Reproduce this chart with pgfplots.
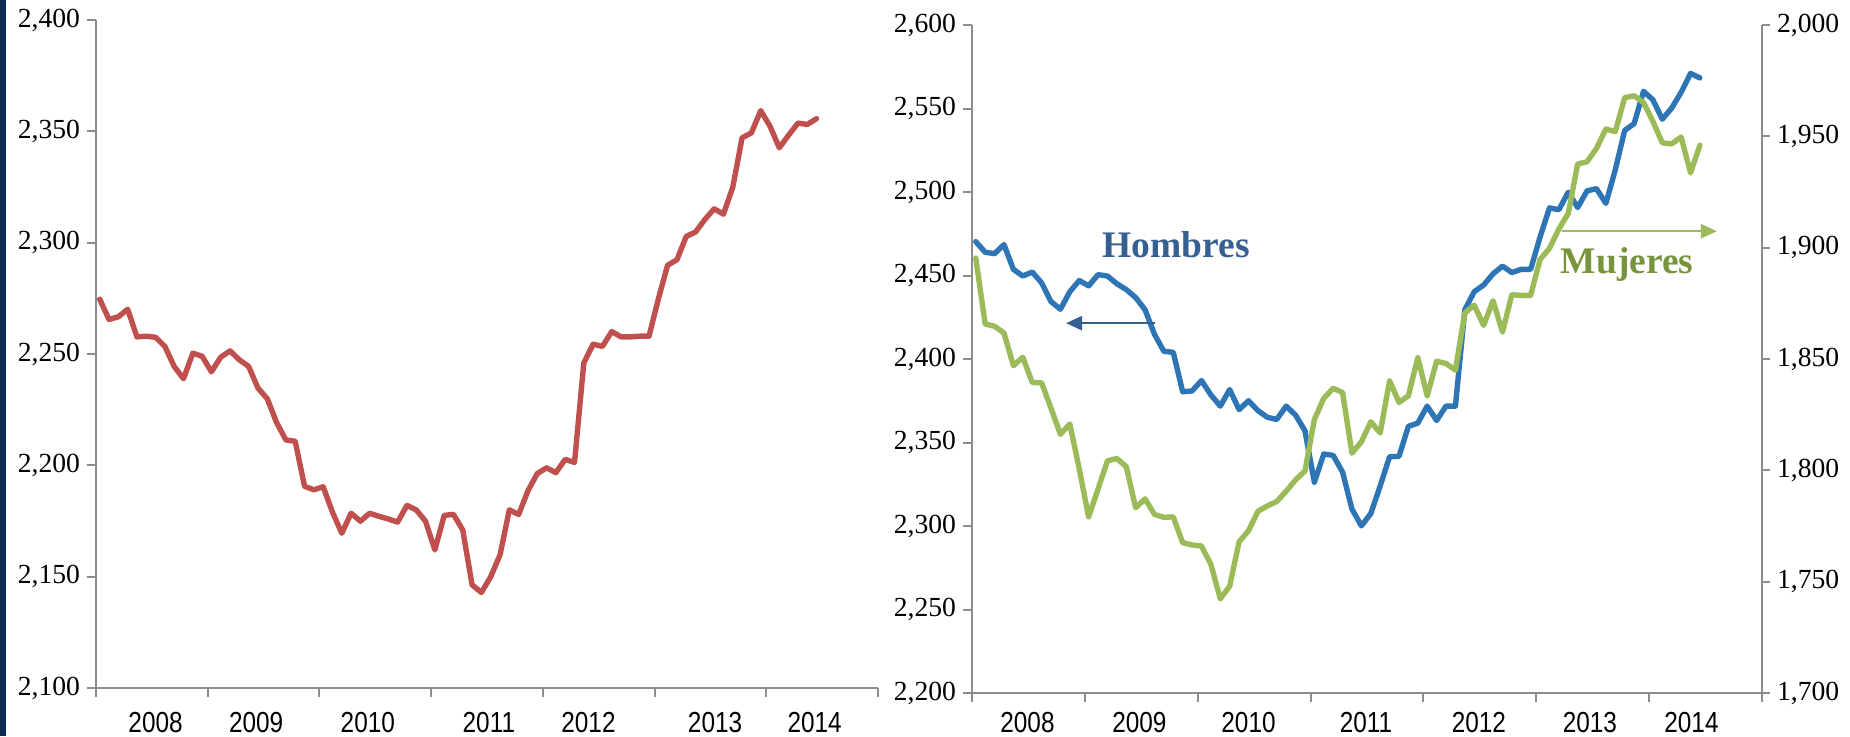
\documentclass[border=0pt]{standalone}
\usepackage{pgfplots}
\pgfplotsset{compat=1.18}
\usepackage{fontspec}
\setmainfont{Liberation Serif}
\newfontfamily\xfont[FakeStretch=0.84]{Liberation Sans}
\usetikzlibrary{arrows.meta}
\definecolor{navy}{HTML}{0C2C54}
\definecolor{axisgray}{HTML}{8C8C8C}
\definecolor{redline}{HTML}{C0504D}
\definecolor{blueline}{HTML}{2E75B6}
\definecolor{greenline}{HTML}{9BBB59}
\definecolor{hombresc}{HTML}{376092}
\definecolor{mujeresc}{HTML}{77933C}

\pgfplotsset{
  common/.style={
    scale only axis, anchor=south west,
    xmin=0, xmax=84, clip=false,
    axis line style={draw=axisgray, line width=1pt, -},
    tick style={draw=axisgray, line width=1pt},
    tick align=outside, major tick length=4.5pt,
    xtick={0,12,...,84}, xticklabels={},
    yticklabel style={font=\fontsize{13.8}{14.5}\selectfont},
    /pgf/number format/1000 sep={,},
    /pgf/number format/assume math mode=true,
    extra x tick labels={2008,2009,2010,2011,2012,2013,2014},
    extra x tick style={major tick length=0pt,
      xticklabel style={anchor=center, font=\xfont\fontsize{14.5}{15}\selectfont}},
  },
  series/.style={line width=2.7pt, line join=round, line cap=round, mark=none},
}

\begin{document}
\begin{tikzpicture}[x=1pt,y=1pt]
\useasboundingbox (0,0) rectangle (925,368);
\fill[navy] (0,0) rectangle (3,368);

% Left panel
\begin{axis}[common, at={(48pt,24pt)}, width=391pt, height=334pt,
  ymin=2100, ymax=2400, ytick={2100,2150,...,2400},
  axis x line*=bottom, axis y line*=left,
  extra x ticks={6.4,17.2,29.2,42.2,52.9,66.5,77.2},
  extra x tick style={xticklabel style={yshift=-17.5pt}},
]
\addplot[series, color=redline] coordinates {
(0.4,2274.6)(1.4,2265.5)(2.4,2266.7)(3.4,2270.1)(4.4,2257.7)(5.4,2258.0)
(6.4,2257.5)(7.4,2253.4)(8.4,2244.4)(9.4,2238.9)(10.4,2250.4)(11.4,2249.0)
(12.4,2242.0)(13.4,2248.6)(14.4,2251.4)(15.4,2247.4)(16.4,2244.4)(17.4,2234.7)
(18.4,2229.9)(19.4,2219.2)(20.4,2211.4)(21.4,2210.8)(22.4,2190.6)(23.4,2189.0)
(24.4,2190.4)(25.4,2179.0)(26.4,2169.5)(27.4,2178.5)(28.4,2174.9)(29.4,2178.5)
(30.4,2177.1)(31.4,2175.9)(32.4,2174.5)(33.4,2182.0)(34.4,2180.0)(35.4,2174.9)
(36.4,2162.0)(37.4,2177.5)(38.4,2178.0)(39.4,2170.9)(40.4,2146.3)(41.4,2142.9)
(42.4,2150.0)(43.4,2159.8)(44.4,2180.0)(45.4,2177.9)(46.4,2188.6)(47.4,2196.3)
(48.4,2198.9)(49.4,2196.7)(50.4,2202.7)(51.4,2201.3)(52.4,2246.0)(53.4,2254.4)
(54.4,2253.4)(55.4,2260.1)(56.4,2257.7)(57.4,2257.7)(58.4,2258.0)(59.4,2258.0)
(60.4,2274.6)(61.4,2289.9)(62.4,2292.3)(63.4,2302.8)(64.4,2304.8)(65.4,2310.4)
(66.4,2315.2)(67.4,2312.8)(68.4,2324.9)(69.4,2347.1)(70.4,2349.3)(71.4,2359.3)
(72.4,2352.3)(73.4,2342.6)(74.4,2348.3)(75.4,2353.7)(76.4,2353.1)(77.4,2355.7)
};
\end{axis}

% Right panel, Hombres (left scale)
\begin{axis}[common, at={(486pt,21.5pt)}, width=395pt, height=334pt,
  ymin=2200, ymax=2600, ytick={2200,2250,...,2600},
  axis x line*=bottom, axis y line*=left,
  extra x ticks={5.9,17.8,29.4,41.9,53.9,65.7,76.5},
  extra x tick style={xticklabel style={yshift=-15pt}},
]
\addplot[series, color=blueline] coordinates {
(0.4,2470.3)(1.4,2463.9)(2.4,2463.1)(3.4,2468.5)(4.4,2453.7)(5.4,2449.7)
(6.4,2452.1)(7.4,2445.6)(8.4,2434.4)(9.4,2429.8)(10.4,2440.3)(11.4,2447.0)
(12.4,2443.8)(13.4,2450.5)(14.4,2449.7)(15.4,2445.1)(16.4,2441.6)(17.4,2436.8)
(18.4,2429.5)(19.4,2414.8)(20.4,2404.6)(21.4,2404.0)(22.4,2380.4)(23.4,2380.9)
(24.4,2387.1)(25.4,2378.5)(26.4,2371.8)(27.4,2381.7)(28.4,2369.7)(29.4,2375.0)
(30.4,2369.1)(31.4,2365.1)(32.4,2363.8)(33.4,2371.8)(34.4,2366.4)(35.4,2357.1)
(36.4,2326.2)(37.4,2343.1)(38.4,2342.3)(39.4,2332.3)(40.4,2310.1)(41.4,2300.1)
(42.4,2307.4)(43.4,2324.0)(44.4,2341.5)(45.4,2341.7)(46.4,2359.7)(47.4,2361.6)
(48.4,2371.8)(49.4,2363.2)(50.4,2371.8)(51.4,2371.8)(52.4,2429.5)(53.4,2440.3)
(54.4,2444.3)(55.4,2451.0)(56.4,2455.6)(57.4,2451.8)(58.4,2453.7)(59.4,2453.7)
(60.4,2473.0)(61.4,2490.5)(62.4,2489.4)(63.4,2499.9)(64.4,2490.7)(65.4,2500.7)
(66.4,2502.0)(67.4,2493.2)(68.4,2513.3)(69.4,2536.9)(70.4,2540.9)(71.4,2560.3)
(72.4,2555.2)(73.4,2543.6)(74.4,2550.3)(75.4,2559.7)(76.4,2571.0)(77.4,2568.3)
};
\end{axis}

% Right panel, Mujeres (right scale)
\begin{axis}[common, at={(486pt,21.5pt)}, width=395pt, height=334pt,
  ymin=1700, ymax=2000, ytick={1700,1750,...,2000},
  hide x axis, axis y line*=right, major tick length=4pt,
  yticklabel style={anchor=west},
]
\addplot[series, color=greenline] coordinates {
(0.4,1895.3)(1.4,1865.7)(2.4,1864.7)(3.4,1861.7)(4.4,1847.0)(5.4,1850.8)
(6.4,1839.5)(7.4,1839.3)(8.4,1827.9)(9.4,1816.2)(10.4,1820.8)(11.4,1800.7)
(12.4,1779.1)(13.4,1791.6)(14.4,1804.3)(15.4,1805.3)(16.4,1801.7)(17.4,1783.2)
(18.4,1787.2)(19.4,1780.2)(20.4,1778.9)(21.4,1779.1)(22.4,1767.5)(23.4,1766.5)
(24.4,1766.0)(25.4,1757.8)(26.4,1742.3)(27.4,1748.0)(28.4,1767.9)(29.4,1772.9)
(30.4,1781.6)(31.4,1784.0)(32.4,1786.0)(33.4,1790.6)(34.4,1795.7)(35.4,1799.7)
(36.4,1822.8)(37.4,1832.3)(38.4,1836.9)(39.4,1834.9)(40.4,1807.7)(41.4,1812.8)
(42.4,1821.8)(43.4,1816.8)(44.4,1840.3)(45.4,1830.5)(46.4,1833.5)(47.4,1850.6)
(48.4,1833.5)(49.4,1849.0)(50.4,1848.0)(51.4,1845.0)(52.4,1870.7)(53.4,1874.2)
(54.4,1865.1)(55.4,1876.2)(56.4,1862.1)(57.4,1878.8)(58.4,1878.6)(59.4,1878.6)
(60.4,1894.7)(61.4,1899.7)(62.4,1908.4)(63.4,1915.4)(64.4,1937.6)(65.4,1938.6)
(66.4,1944.6)(67.4,1953.3)(68.4,1952.1)(69.4,1967.4)(70.4,1968.2)(71.4,1965.2)
(72.4,1956.7)(73.4,1947.1)(74.4,1946.6)(75.4,1949.7)(76.4,1933.6)(77.4,1946.0)
};
\node[anchor=base, text=hombresc, font=\bfseries\fontsize{18.75}{20}\selectfont]
  at (axis cs:21.7,1895.7) {Hombres};
\draw[draw=hombresc, line width=1.3pt, -{Triangle[length=8pt,width=7pt]}]
  (axis cs:19.45,1866.1) -- (axis cs:10.0,1866.1);
\node[anchor=base, text=mujeresc, font=\bfseries\fontsize{18.75}{20}\selectfont]
  at (axis cs:69.66,1888.5) {Mujeres};
\draw[draw=greenline, line width=1.3pt, -{Triangle[length=8pt,width=7pt]}, fill=greenline]
  (axis cs:62.7,1907.4) -- (axis cs:79.2,1907.4);
\end{axis}
\end{tikzpicture}
\end{document}
